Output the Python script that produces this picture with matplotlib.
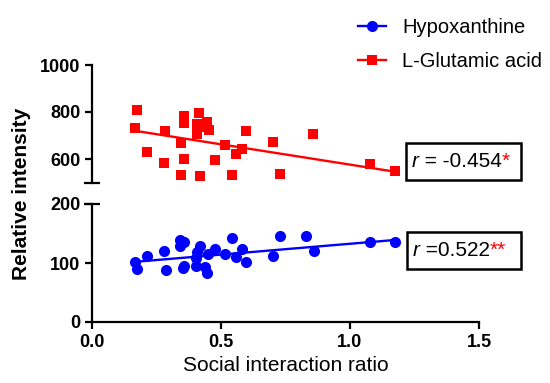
import numpy as np
import matplotlib.pyplot as plt
from matplotlib.patches import Rectangle
from matplotlib.lines import Line2D

plt.rcParams['font.family'] = ['Liberation Sans', 'DejaVu Sans']

# Hypoxanthine (bottom panel)
hypo_x = [0.167, 0.176, 0.212, 0.279, 0.286, 0.343, 0.357, 0.341, 0.357, 0.353,
          0.419, 0.406, 0.403, 0.403, 0.438, 0.445, 0.449, 0.477, 0.516, 0.542,
          0.557, 0.580, 0.596, 0.703, 0.729, 0.829, 0.861, 1.078, 1.174]
hypo_y = [102, 89, 112, 120, 88, 139, 135, 128, 95, 92,
          129, 119, 108, 95, 94, 83, 116, 124, 116, 143,
          111, 124, 101, 112, 146, 146, 120, 136, 136]
hypo_fit = [102, 139]   # fit line at min / max x

# L-Glutamic acid (top panel)
glu_x = [0.176, 0.167, 0.212, 0.279, 0.284, 0.344, 0.344, 0.357, 0.358, 0.355,
         0.415, 0.406, 0.406, 0.445, 0.455, 0.419, 0.426, 0.477, 0.516, 0.544,
         0.557, 0.580, 0.597, 0.703, 0.729, 0.858, 1.078, 1.174]
glu_y = [808, 731, 631, 581, 719, 534, 666, 600, 785, 755,
         796, 747, 708, 759, 723, 528, 736, 596, 660, 530,
         621, 641, 720, 671, 536, 705, 579, 550]
glu_fit = [720, 546]

labels = ['Hypoxanthine', 'L-Glutamic acid']
r_text = ['0.522', '-0.454']
stars = ['**', '*']

W, H = 550, 383
fig = plt.figure(figsize=(5.5, 3.83), dpi=100)

def fx(px):
    return px / W

def fy(py):
    return 1 - py / H

left, right = fx(92), fx(479)
ax_lo = fig.add_axes([left, fy(322), right - left, fy(204) - fy(322)])
ax_hi = fig.add_axes([left, fy(182.5), right - left, fy(65) - fy(182.5)])

blue, red = '#0000ff', '#ff0000'

ax_lo.plot(hypo_x, hypo_y, 'o', color=blue, ms=8, mew=0, clip_on=False)
ax_hi.plot(glu_x, glu_y, 's', color=red, ms=7, mew=0, clip_on=False)

# fit lines
for ax, x, fit, c in [(ax_lo, hypo_x, hypo_fit, blue), (ax_hi, glu_x, glu_fit, red)]:
    ax.plot([min(x), max(x)], fit, color=c, lw=1.7, clip_on=False)

for ax in (ax_lo, ax_hi):
    ax.patch.set_visible(False)
    ax.set_xlim(0, 1.5)
    for s in ('top', 'right'):
        ax.spines[s].set_visible(False)
    ax.spines['left'].set_linewidth(1.6)
    ax.spines['bottom'].set_linewidth(1.6)
    ax.tick_params(width=1.6, length=5, labelsize=13)

ax_lo.set_ylim(0, 200)
ax_lo.set_yticks([0, 100, 200])
ax_lo.set_xticks([0, 0.5, 1.0, 1.5])
ax_lo.set_xticklabels(['0.0', '0.5', '1.0', '1.5'], fontweight='bold')
ax_lo.set_yticklabels(['0', '100', '200'], fontweight='bold')
ax_lo.set_xlabel('Social interaction ratio', fontsize=15)

ax_hi.set_ylim(500, 1000)
ax_hi.set_yticks([600, 800, 1000])
ax_hi.set_yticklabels(['600', '800', '1000'], fontweight='bold')
ax_hi.spines['bottom'].set_visible(False)
ax_hi.set_xticks([])

# break caps
ax_hi.plot([0], [500], marker='_', ms=12, mew=1.6, color='black',
           transform=ax_hi.get_yaxis_transform(), clip_on=False)
ax_lo.plot([0], [200], marker='_', ms=12, mew=1.6, color='black',
           transform=ax_lo.get_yaxis_transform(), clip_on=False)

fig.text(fx(22), fy(194), 'Relative intensity', rotation=90, fontsize=15,
         fontweight='bold', ha='center', va='center')

handles = [Line2D([], [], color=blue, marker='o', ms=8, mew=0, lw=1.7),
           Line2D([], [], color=red, marker='s', ms=7, mew=0, lw=1.7)]
fig.legend(handles, labels, loc='upper left', bbox_to_anchor=(fx(358), fy(18)),
           frameon=False, fontsize=14.5, handlelength=1.4, handletextpad=0.8,
           labelspacing=0.75, borderpad=0, borderaxespad=0)

# r boxes
boxes = [(407, 231.7, 521, 269.3), (405.7, 142.7, 520.7, 180)]
for (x0, y0, x1, y1), rt, st in zip(boxes, r_text, stars):
    fig.add_artist(Rectangle((fx(x0), fy(y1)), fx(x1) - fx(x0), fy(y0) - fy(y1),
                             transform=fig.transFigure, fill=False, lw=1.8,
                             edgecolor='black'))
    yc = fy((y0 + y1) / 2)
    t1 = fig.text(fx(x0 + 6), yc, 'r', style='italic', fontsize=15, va='center')
    sep = ' =' if rt.startswith('0') else ' = '
    t2 = ax_lo.annotate(sep + rt, xy=(1, 0), xycoords=t1, va='bottom', ha='left',
                        fontsize=15, annotation_clip=False)
    ax_lo.annotate(st, xy=(1, 0), xycoords=t2, va='bottom', ha='left',
                   fontsize=15, color=red, annotation_clip=False)

fig.savefig('out.png', dpi=100)
